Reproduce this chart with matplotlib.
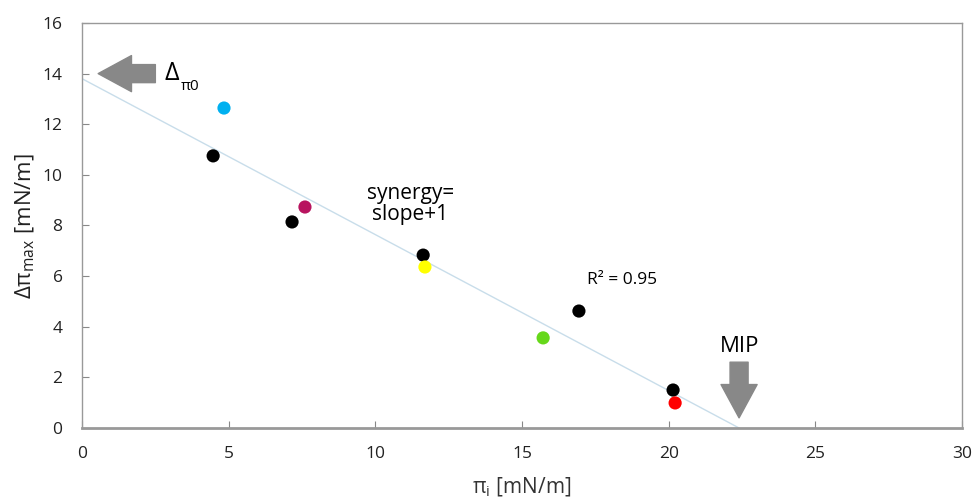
import numpy as np
import matplotlib
matplotlib.use('Agg')
import matplotlib.pyplot as plt

# data
pi_i = [4.84, 4.47, 7.60, 7.16, 11.63, 11.69, 16.94, 15.72, 20.15, 20.22]
d_pi_max = [12.64, 10.75, 8.73, 8.14, 6.83, 6.36, 4.62, 3.56, 1.50, 0.99]
point_colors = ['#00B0F0', 'black', '#B8145F', 'black', 'black',
                '#FFFF00', 'black', '#66D81A', 'black', '#FF0000']

trend_intercept = 13.8   # delta_pi0
mip = 22.4               # x-intercept of trendline
r_squared = 0.95

x_ticks = [0, 5, 10, 15, 20, 25, 30]
y_ticks = [0, 2, 4, 6, 8, 10, 12, 14, 16]

plt.rcParams['font.family'] = ['Open Sans', 'DejaVu Sans']
plt.rcParams['mathtext.fontset'] = 'custom'
plt.rcParams['mathtext.rm'] = 'Open Sans'
plt.rcParams['mathtext.it'] = 'Open Sans'

fig = plt.figure(figsize=(9.73, 5.04), dpi=100)
ax = fig.add_axes([0.0843, 0.1508, 0.9044, 0.8036])

# trendline
tx = np.array([0, mip])
ty = trend_intercept - trend_intercept / mip * tx
ax.plot(tx, ty, color='#C8DDEA', lw=1, zorder=1)

ax.scatter(pi_i, d_pi_max, c=point_colors, s=90, zorder=3, edgecolors='none')

ax.set_xlim(0, 30)
ax.set_ylim(0, 16)
ax.set_xticks(x_ticks)
ax.set_yticks(y_ticks)
ax.tick_params(direction='in', length=5, color='#888888', labelsize=12.5,
               labelcolor='#222222')
ax.tick_params(axis='y', pad=14)
ax.tick_params(axis='x', pad=13)
for s in ax.spines.values():
    s.set_color('#999999')
    s.set_linewidth(1)
ax.spines['bottom'].set_linewidth(2)

ax.set_xlabel(r'$\mathrm{\pi_i}$ [mN/m]', fontsize=15, color='#333333', labelpad=10)
ax.set_ylabel(r'$\mathrm{\Delta\pi_{max}}$ [mN/m]', fontsize=16, color='#222222', labelpad=4)

# arrows
arrow_style = 'simple,head_width=1.3,head_length=1.2,tail_width=0.65'
ax.annotate('', xy=(0.55, 14.0), xytext=(2.5, 14.0),
            arrowprops=dict(arrowstyle=arrow_style, color='#888888',
                            mutation_scale=20, shrinkA=0, shrinkB=0))
ax.annotate('', xy=(mip, 0.4), xytext=(mip, 2.6),
            arrowprops=dict(arrowstyle=arrow_style, color='#888888',
                            mutation_scale=20, shrinkA=0, shrinkB=0))

ax.text(2.8, 13.75, 'Δ', fontsize=18, va='baseline', ha='left')
ax.text(3.35, 13.35, 'π0', fontsize=11, va='baseline', ha='left')
ax.text(mip, 3.2, 'MIP', fontsize=16, ha='center', va='center')
ax.text(11.2, 8.85, 'synergy=\nslope+1', fontsize=15, ha='center', va='center',
        linespacing=1.0)
ax.text(17.2, 5.85, 'R² = %.2f' % r_squared, fontsize=12.5, ha='left', va='center')

fig.savefig('out.png', dpi=100)
